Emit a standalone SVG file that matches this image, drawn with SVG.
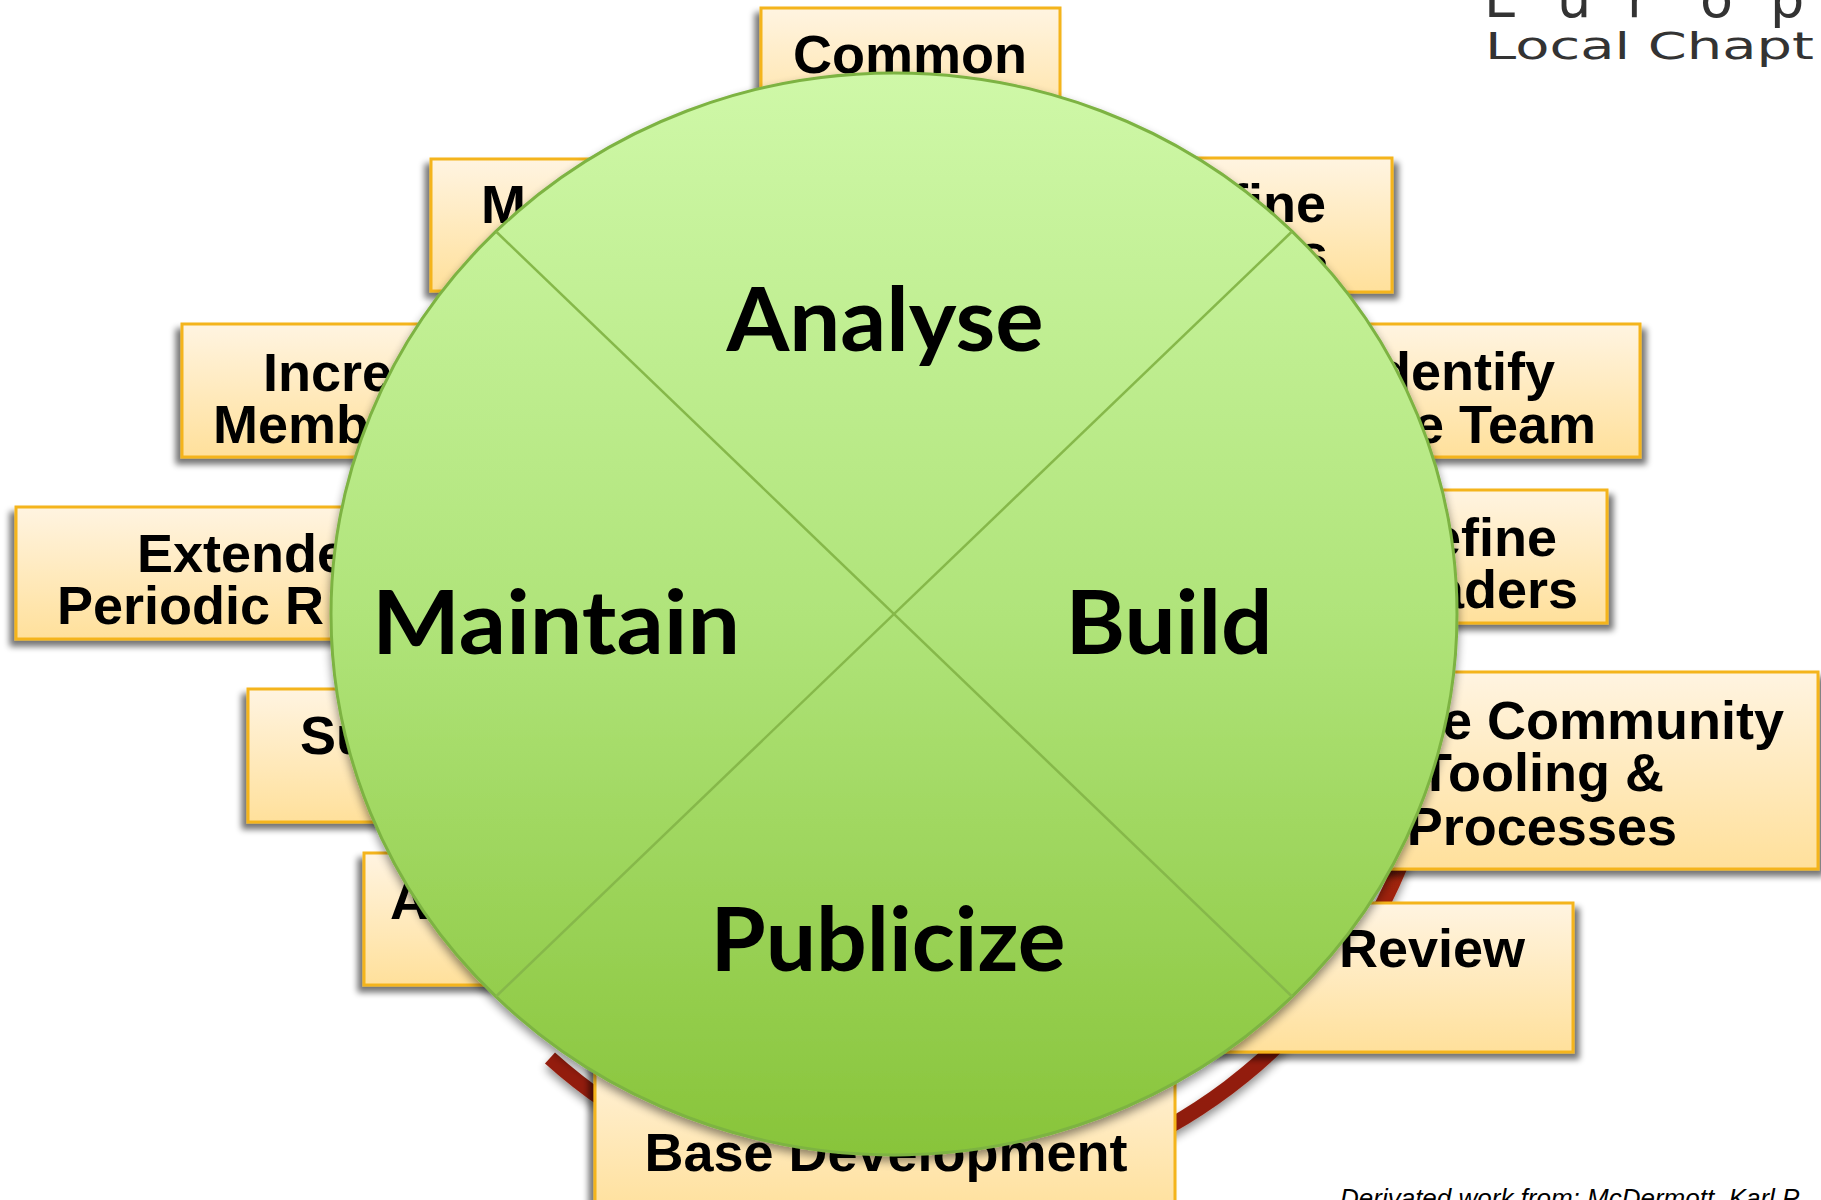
<svg xmlns="http://www.w3.org/2000/svg" width="1821" height="1200" viewBox="0 0 1821 1200">
<defs>
<style>
.box{fill:url(#boxGrad);stroke:#f4b41a;stroke-width:3}
.bt{font-family:"Liberation Sans",Arial,sans-serif;font-weight:bold;font-size:54px;fill:#000}
.lbl{font-family:Lato,"Open Sans",sans-serif;font-weight:bold;font-size:88px;fill:#000;text-anchor:middle}
.div{stroke:#86b84a;stroke-width:2.5;fill:none}
.logo{font-family:"DejaVu Sans","Liberation Sans",sans-serif;font-size:38px;fill:#333}
</style>
<linearGradient id="boxGrad" x1="0" y1="0" x2="0" y2="1">
<stop offset="0" stop-color="#fff4e1"/>
<stop offset="1" stop-color="#ffe09b"/>
</linearGradient>
<linearGradient id="circGrad" gradientUnits="userSpaceOnUse" x1="0" y1="73" x2="0" y2="1155">
<stop offset="0" stop-color="#cff8a8"/>
<stop offset="0.5" stop-color="#b0e47a"/>
<stop offset="1" stop-color="#88c43a"/>
</linearGradient>
<linearGradient id="ringGrad" gradientUnits="userSpaceOnUse" x1="0" y1="650" x2="0" y2="1200">
<stop offset="0" stop-color="#b02c16"/>
<stop offset="1" stop-color="#8a1a0a"/>
</linearGradient>
<filter id="shL" x="-10%" y="-10%" width="125%" height="130%">
<feGaussianBlur in="SourceAlpha" stdDeviation="3"/>
<feOffset dx="-5" dy="6" result="o"/>
<feComponentTransfer><feFuncA type="linear" slope="0.55"/></feComponentTransfer>
<feMerge><feMergeNode/><feMergeNode in="SourceGraphic"/></feMerge>
</filter>
<filter id="shR" x="-10%" y="-10%" width="125%" height="130%">
<feGaussianBlur in="SourceAlpha" stdDeviation="3"/>
<feOffset dx="5" dy="6" result="o"/>
<feComponentTransfer><feFuncA type="linear" slope="0.55"/></feComponentTransfer>
<feMerge><feMergeNode/><feMergeNode in="SourceGraphic"/></feMerge>
</filter>
<filter id="shC" x="-10%" y="-10%" width="120%" height="120%">
<feGaussianBlur in="SourceAlpha" stdDeviation="5"/>
<feOffset dx="0" dy="5" result="o"/>
<feComponentTransfer><feFuncA type="linear" slope="0.45"/></feComponentTransfer>
<feMerge><feMergeNode/><feMergeNode in="SourceGraphic"/></feMerge>
</filter>
</defs>
<rect width="1821" height="1200" fill="#fff"/>

<g id="connectors">
<path d="M 1439 708.5 A 534 534 0 0 1 550 1058" fill="none" stroke="url(#ringGrad)" stroke-width="15" filter="url(#shC)"/>
</g>

<g id="node-common" filter="url(#shL)">
<rect class="box" x="761" y="8" width="299" height="133"/>
<text class="bt" x="910" y="73" text-anchor="middle">Common</text>
</g>
<g id="node-m" filter="url(#shL)">
<rect class="box" x="431" y="159" width="330" height="132"/>
<text class="bt" x="481" y="223">M</text>
</g>
<g id="node-define-top" filter="url(#shR)">
<rect class="box" x="1060" y="158" width="332" height="134"/>
<text class="bt" x="1326" y="222" text-anchor="end">fine</text>
<text class="bt" x="1328" y="272" text-anchor="end">s</text>
</g>
<g id="node-incre" filter="url(#shL)">
<rect class="box" x="182" y="324" width="380" height="133"/>
<text class="bt" x="263" y="391">Incre</text>
<text class="bt" x="213" y="443">Memb</text>
</g>
<g id="node-identify" filter="url(#shR)">
<rect class="box" x="1250" y="324" width="390" height="133"/>
<text class="bt" x="1555" y="390" text-anchor="end">Identify</text>
<text class="bt" x="1596" y="443" text-anchor="end">e Team</text>
</g>
<g id="node-extende" filter="url(#shL)">
<rect class="box" x="16" y="507" width="470" height="132"/>
<text class="bt" x="137" y="572">Extende</text>
<text class="bt" x="57" y="624">Periodic R</text>
</g>
<g id="node-define-leaders" filter="url(#shR)">
<rect class="box" x="1300" y="490" width="307" height="133"/>
<text class="bt" x="1557" y="556" text-anchor="end">efine</text>
<text class="bt" x="1578" y="608" text-anchor="end">aders</text>
</g>
<g id="node-su" filter="url(#shL)">
<rect class="box" x="248" y="689" width="312" height="133"/>
<text class="bt" x="300" y="754">Su</text>
</g>
<g id="node-community" filter="url(#shR)">
<rect class="box" x="1300" y="672" width="518" height="197"/>
<text class="bt" x="1784" y="739" text-anchor="end">e Community</text>
<text class="bt" x="1664" y="791" text-anchor="end">Tooling &amp;</text>
<text class="bt" x="1677" y="845" text-anchor="end">Processes</text>
</g>
<g id="node-a" filter="url(#shL)">
<rect class="box" x="364" y="853" width="256" height="132"/>
<text class="bt" x="390" y="919">A</text>
</g>
<g id="node-review" filter="url(#shR)">
<rect class="box" x="1150" y="903" width="423" height="149"/>
<text class="bt" x="1339" y="967">Review</text>
</g>
<g id="node-base" filter="url(#shL)">
<rect class="box" x="595" y="1040" width="580" height="175"/>
<text class="bt" x="886" y="1171" text-anchor="middle">Base Development</text>
</g>

<g id="cycle">
<ellipse cx="894" cy="614" rx="563" ry="541" fill="url(#circGrad)" stroke="#7db343" stroke-width="3" filter="url(#shC)"/>
<line class="div" x1="496" y1="231.5" x2="1292" y2="996.5"/>
<line class="div" x1="1292" y1="231.5" x2="496" y2="996.5"/>
<text class="lbl" x="885" y="351" textLength="317" lengthAdjust="spacingAndGlyphs">Analyse</text>
<text class="lbl" x="556" y="654" textLength="368" lengthAdjust="spacingAndGlyphs">Maintain</text>
<text class="lbl" x="1169" y="654" textLength="207" lengthAdjust="spacingAndGlyphs">Build</text>
<text class="lbl" x="888" y="971" textLength="355" lengthAdjust="spacingAndGlyphs">Publicize</text>
</g>

<g id="logo">
<text class="logo" x="1484 1557 1627 1700 1770" y="17" style="font-size:54px">Europ</text>
<text class="logo" x="1485" y="59" textLength="329" lengthAdjust="spacingAndGlyphs">Local Chapt</text>
</g>
<text x="1340" y="1207" font-family="'Liberation Sans',Arial,sans-serif" font-style="italic" font-size="26" fill="#000">Derivated work from: McDermott, Karl P</text>
</svg>
